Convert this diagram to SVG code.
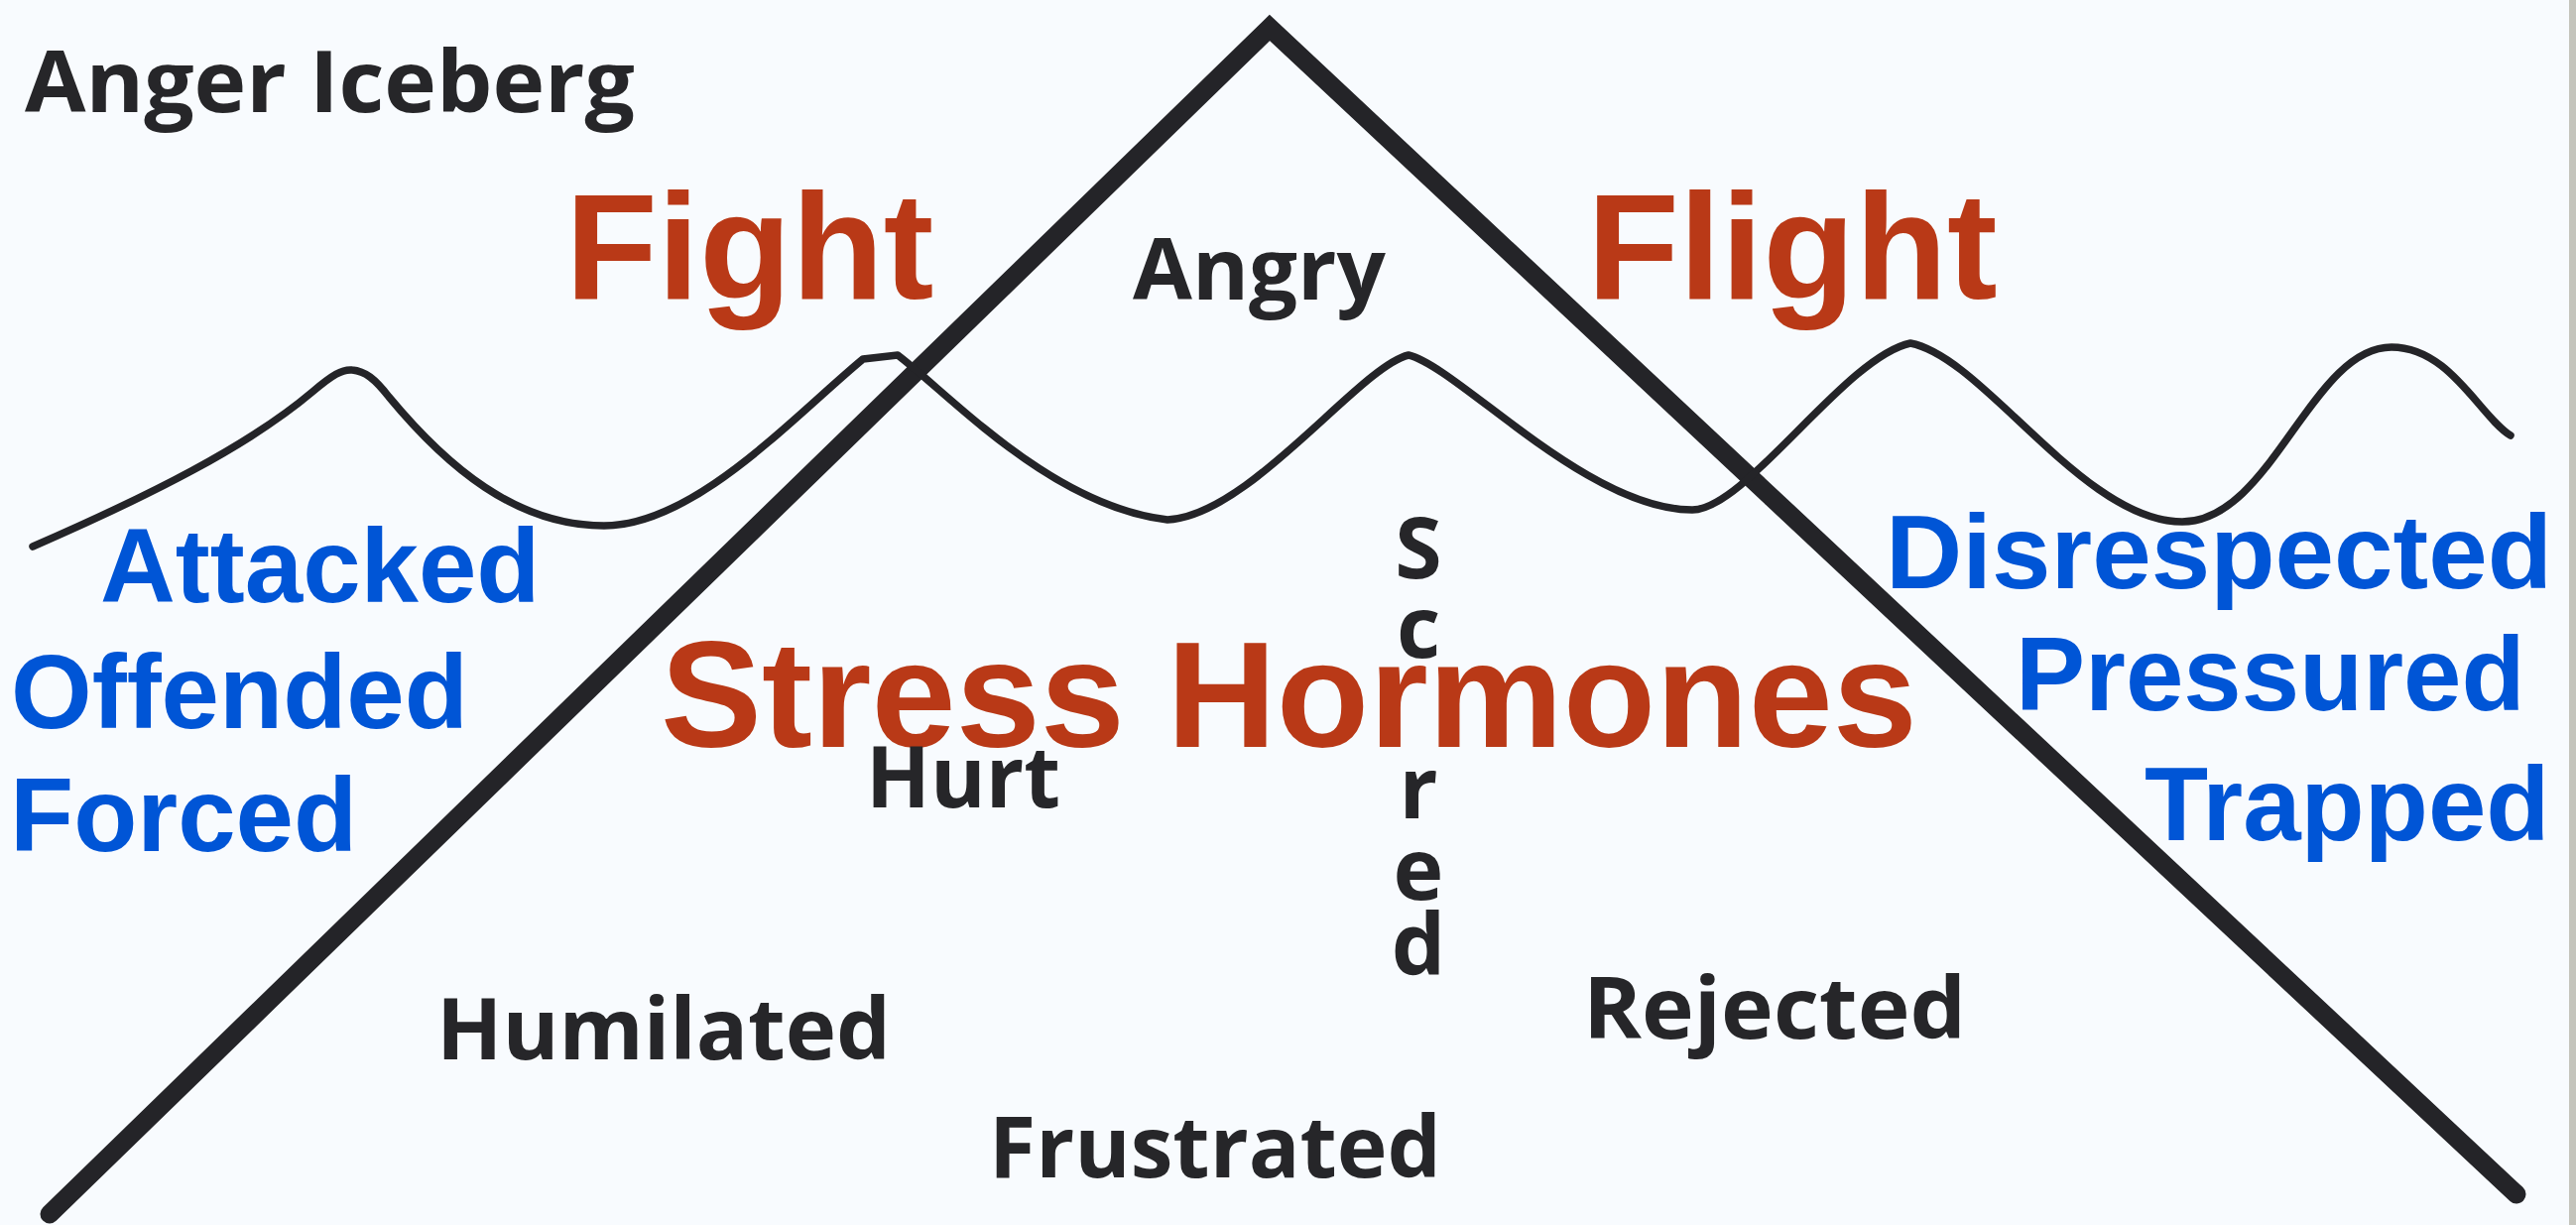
<svg xmlns="http://www.w3.org/2000/svg" width="2597" height="1235" viewBox="0 0 2597 1235">
  <style>
    .dark { font-family: "Open Sans", "Noto Sans", "DejaVu Sans", sans-serif; font-weight: 700; fill: #262629; font-size: 86px; }
    .red { font-family: "Liberation Sans", Arial, sans-serif; font-weight: 700; fill: #b93917; }
    .blue { font-family: "Liberation Sans", Arial, sans-serif; font-weight: 700; fill: #0055d6; font-size: 105px; }
    .berg { fill: none; stroke: #242428; stroke-width: 19; stroke-linejoin: miter; stroke-linecap: round; }
    .wave { fill: none; stroke: #242428; stroke-width: 7.5; stroke-linejoin: round; stroke-linecap: round; }
  </style>
  <rect x="0" y="0" width="2597" height="1235" fill="#f8fbfe"/>
  <rect x="2590" y="0" width="7" height="1235" fill="#c4c4bc"/>

  <g id="connectors">
    <path class="berg" d="M 50 1224 L 1280 28 L 2537 1204"/>
    <path class="wave" d="M 33 551 C 150 500, 250 450, 315 395 C 335 378, 345 372, 355 373 C 368 374, 378 382, 392 400 C 450 470, 520 530, 609 530 C 700 530, 800 420, 870 362 L 905 358 C 960 400, 1060 510, 1177 524 C 1260 520, 1370 370, 1420 358 C 1470 370, 1600 514, 1706 514 C 1760 514, 1860 360, 1926 346 C 2000 360, 2100 526, 2200 526 C 2290 526, 2330 350, 2411 350 C 2470 350, 2500 420, 2531 439"/>
  </g>

  <g id="title"><text class="dark" x="25" y="113" font-size="90" textLength="615" lengthAdjust="spacingAndGlyphs">Anger Iceberg</text></g>

  <g id="fight"><text class="red" x="570" y="301" font-size="152">Fight</text></g>
  <g id="flight"><text class="red" x="1600" y="301" font-size="152">Flight</text></g>
  <g id="stress-hormones"><text class="red" x="666" y="753" font-size="153">Stress Hormones</text></g>

  <g id="angry"><text class="dark" x="1142" y="302" textLength="255" lengthAdjust="spacingAndGlyphs">Angry</text></g>
  <g id="hurt"><text class="dark" x="873" y="814" textLength="196" lengthAdjust="spacingAndGlyphs">Hurt</text></g>
  <g id="humilated"><text class="dark" x="440" y="1068" textLength="458" lengthAdjust="spacingAndGlyphs">Humilated</text></g>
  <g id="frustrated"><text class="dark" x="997" y="1187" textLength="456" lengthAdjust="spacingAndGlyphs">Frustrated</text></g>
  <g id="rejected"><text class="dark" x="1596" y="1047" textLength="386" lengthAdjust="spacingAndGlyphs">Rejected</text></g>
  <g id="scared">
    <text class="dark" x="1430" y="583" text-anchor="middle">S</text>
    <text class="dark" x="1430" y="663" text-anchor="middle">c</text>
    <text class="dark" x="1430" y="825" text-anchor="middle">r</text>
    <text class="dark" x="1430" y="907" text-anchor="middle">e</text>
    <text class="dark" x="1430" y="983" text-anchor="middle">d</text>
  </g>

  <g id="attacked"><text class="blue" x="101" y="607">Attacked</text></g>
  <g id="offended"><text class="blue" x="11" y="734">Offended</text></g>
  <g id="forced"><text class="blue" x="10" y="858">Forced</text></g>
  <g id="disrespected"><text class="blue" x="1901" y="593" font-size="103" textLength="672" lengthAdjust="spacingAndGlyphs">Disrespected</text></g>
  <g id="pressured"><text class="blue" x="2032" y="716">Pressured</text></g>
  <g id="trapped"><text class="blue" x="2162" y="847">Trapped</text></g>
</svg>
